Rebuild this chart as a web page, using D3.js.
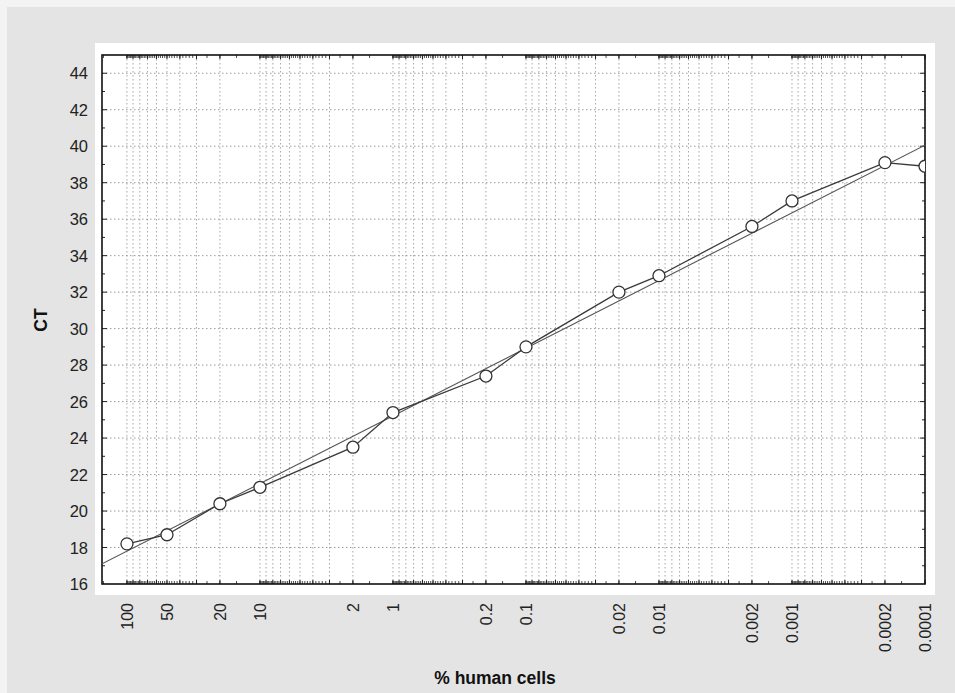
<!DOCTYPE html>
<html>
<head>
<meta charset="utf-8">
<script src="https://cdn.jsdelivr.net/npm/d3@7/dist/d3.min.js"></script>
<style>
  body { margin: 0; background: #ffffff; }
  svg { display: block; font-family: "Liberation Sans", Arial, sans-serif; }
</style>
</head>
<body>
<svg></svg>
<script>
//svg size
const width = 955;
const height = 693;

//data: % human cells and measured CT
var pct = [100, 50, 20, 10, 2, 1, 0.2, 0.1, 0.02, 0.01, 0.002, 0.001, 0.0002, 0.0001];
var ct = [18.2, 18.7, 20.4, 21.3, 23.5, 25.4, 27.4, 29.0, 32.0, 32.9, 35.6, 37.0, 39.1, 38.9];
var xTickLabels = ['100', '50', '20', '10', '2', '1', '0.2', '0.1', '0.02', '0.01', '0.002', '0.001', '0.0002', '0.0001'];
var yTicks = [16, 18, 20, 22, 24, 26, 28, 30, 32, 34, 36, 38, 40, 42, 44];

//plot frame
var plotL = 102, plotR = 925, plotT = 55, plotB = 584;
var xMax = 154, xMin = 0.0001;

var svg = d3.select('svg')
    .attr('width', width)
    .attr('height', height);

//backgrounds (scanned page look)
svg.append('rect').attr('width', width).attr('height', height).attr('fill', '#f3f3f3');
svg.append('rect').attr('x', 7).attr('y', 7).attr('width', width - 7).attr('height', height - 7).attr('fill', '#e4e4e4');
svg.append('rect').attr('x', 95).attr('y', 43).attr('width', 840).attr('height', 552).attr('fill', '#ffffff');

//scales (x reversed log)
var x = d3.scaleLog().domain([xMax, xMin]).range([plotL, plotR]);
var y = d3.scaleLinear().domain([16, 45]).range([plotB, plotT]);

var g = svg.append('g');

//vertical grid at 1..9 of each decade
var gridX = [];
for (var e = 2; e >= -4; e--) {
    for (var k = 1; k <= 9; k++) {
        var v = k * Math.pow(10, e);
        if (v <= xMax && v >= xMin) gridX.push(v);
    }
}
g.selectAll('.vgrid').data(gridX).enter().append('line')
    .attr('class', 'vgrid')
    .attr('x1', d => x(d)).attr('x2', d => x(d))
    .attr('y1', plotT).attr('y2', plotB)
    .attr('stroke', '#8f8f8f')
    .attr('stroke-width', 0.8)
    .attr('stroke-dasharray', '1.5,2.5');

//horizontal grid
g.selectAll('.hgrid').data(yTicks.slice(1)).enter().append('line')
    .attr('class', 'hgrid')
    .attr('x1', plotL).attr('x2', plotR)
    .attr('y1', d => y(d)).attr('y2', d => y(d))
    .attr('stroke', '#8f8f8f')
    .attr('stroke-width', 0.9)
    .attr('stroke-dasharray', '1.5,2.5');

//minor ticks on top/bottom edges
var minorX = [];
for (var e = 2; e >= -4; e--) {
    for (var k = 1; k < 10; k += (k < 3 ? 0.5 : 0.2)) {
        var v = k * Math.pow(10, e);
        if (v <= xMax && v >= xMin) minorX.push(v);
    }
}
[plotB, plotT].forEach(function(edge) {
    var dir = edge === plotB ? -1 : 1;
    g.selectAll(null).data(minorX).enter().append('line')
        .attr('x1', d => x(d)).attr('x2', d => x(d))
        .attr('y1', edge).attr('y2', edge + dir * 3)
        .attr('stroke', '#222').attr('stroke-width', 0.8);
    g.selectAll(null).data(gridX).enter().append('line')
        .attr('x1', d => x(d)).attr('x2', d => x(d))
        .attr('y1', edge).attr('y2', edge + dir * 4)
        .attr('stroke', '#222').attr('stroke-width', 1);
});

//y ticks on left/right edges
var yMinor = d3.range(17, 45, 1);
[plotL, plotR].forEach(function(edge) {
    var dir = edge === plotL ? 1 : -1;
    g.selectAll(null).data(yMinor).enter().append('line')
        .attr('x1', edge).attr('x2', d => edge + dir * (d % 2 === 0 ? 5 : 3))
        .attr('y1', d => y(d)).attr('y2', d => y(d))
        .attr('stroke', '#222').attr('stroke-width', 1);
});

//frame
g.append('rect')
    .attr('x', plotL).attr('y', plotT)
    .attr('width', plotR - plotL).attr('height', plotB - plotT)
    .attr('fill', 'none')
    .attr('stroke', '#111')
    .attr('stroke-width', 1.6);

//clip for marks
svg.append('clipPath').attr('id', 'plotclip')
    .append('rect').attr('x', plotL).attr('y', plotT).attr('width', plotR - plotL).attr('height', plotB - plotT);
var marks = svg.append('g').attr('clip-path', 'url(#plotclip)');

//least squares fit of CT on log10(%)
var lx = pct.map(d => Math.log10(d));
var mx = d3.mean(lx), my = d3.mean(ct);
var sxy = d3.sum(lx, (d, i) => (d - mx) * (ct[i] - my));
var sxx = d3.sum(lx, d => (d - mx) * (d - mx));
var slope = sxy / sxx;
var intercept = my - slope * mx;
marks.append('path')
    .datum(x.domain())
    .attr('d', d3.line().x(d => x(d)).y(d => y(intercept + slope * Math.log10(d))))
    .attr('fill', 'none')
    .attr('stroke', '#555')
    .attr('stroke-width', 1.1);

//data line
var pts = pct.map((d, i) => [d, ct[i]]);
marks.append('path')
    .datum(pts)
    .attr('d', d3.line().x(d => x(d[0])).y(d => y(d[1])))
    .attr('fill', 'none')
    .attr('stroke', '#3a3a3a')
    .attr('stroke-width', 1.3);

//markers
marks.selectAll('circle').data(pts).enter().append('circle')
    .attr('cx', d => x(d[0]))
    .attr('cy', d => y(d[1]))
    .attr('r', 6)
    .attr('fill', '#fff')
    .attr('stroke', '#333')
    .attr('stroke-width', 1.3);

//y tick labels
svg.selectAll('.ylab').data(yTicks).enter().append('text')
    .attr('class', 'ylab')
    .attr('x', 88)
    .attr('y', d => y(d) + 6)
    .attr('text-anchor', 'end')
    .attr('font-size', 16.5)
    .attr('fill', '#222')
    .text(d => d);

//x tick labels, rotated
svg.selectAll('.xlab').data(pct).enter().append('text')
    .attr('class', 'xlab')
    .attr('transform', d => 'translate(' + (x(d) + 6) + ',603) rotate(-90)')
    .attr('text-anchor', 'end')
    .attr('font-size', 16)
    .attr('fill', '#222')
    .text((d, i) => xTickLabels[i]);

//axis titles
svg.append('text')
    .attr('transform', 'translate(47,320) rotate(-90)')
    .attr('text-anchor', 'middle')
    .attr('font-size', 17.5)
    .attr('font-weight', 'bold')
    .attr('fill', '#111')
    .text('CT');

svg.append('text')
    .attr('x', 495)
    .attr('y', 684)
    .attr('text-anchor', 'middle')
    .attr('font-size', 17.5)
    .attr('font-weight', 'bold')
    .attr('fill', '#111')
    .text('% human cells');
</script>
</body>
</html>
